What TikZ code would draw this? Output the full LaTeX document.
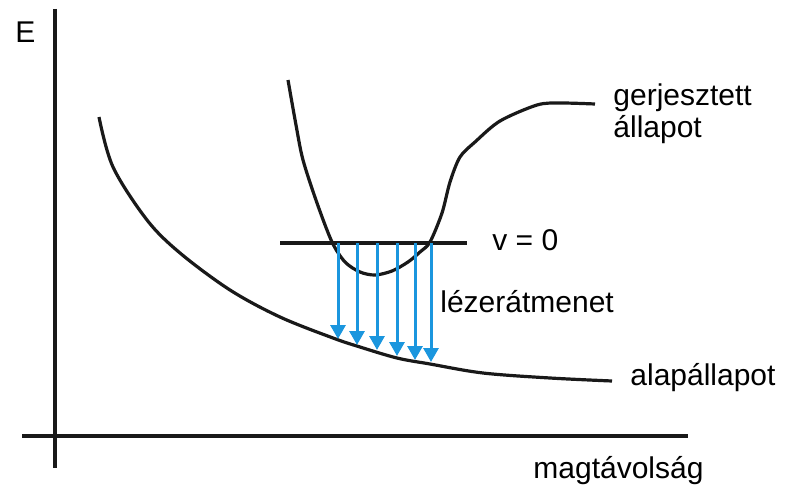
\documentclass[tikz,border=0pt]{standalone}
\usepackage{fontspec}
\setmainfont{Liberation Sans}
\usetikzlibrary{arrows.meta, positioning}

\begin{document}
\begin{tikzpicture}[x=0.5pt, y=-0.5pt, l/.style={line width=1.6pt,black!90}, lz/.style={-{Triangle[length=7pt,width=7.5pt]},line width=1.5pt,color={rgb,255:red,27;green,150;blue,222}}, t/.style={font=\fontsize{15}{18}\selectfont,inner sep=0pt}]
  \useasboundingbox (0,0) rectangle (786,492);
  % axes
  \coordinate (ytop) at (55,9);
  \coordinate (ybot) at (55,468);
  \coordinate (xl) at (22,436);
  \coordinate (xr) at (688,436);
  \draw[l] (ytop)--(ybot);
  \draw[l] (xl)--(xr);
  \node[t,anchor=base west](E) at (15,43){E};
  \node[t,anchor=base west](r) at (533,478){magtávolság};
  % potential curves
  \draw[l] plot[smooth,tension=0.55] coordinates {(99,117) (113,167) (147,220) (180,253) (230,290) (280,317) (333,338) (360,347) (397,358) (430,364) (483,373) (550,378) (612,381)};
  \draw[l] plot[smooth,tension=0.5] coordinates {(288,80) (296,125) (303,160) (317,203) (332,242) (345,262) (360,272) (375,275) (392,271) (408,262) (420,252) (430,242) (442,213) (450,182) (460,157) (475,142) (500,121) (537,105) (560,103) (595,104)};
  \node[t,anchor=base west](gs) at (630,385){alapállapot};
  \node[t,anchor=base west](ex) at (613,105){gerjesztett};
  \node[t,anchor=base west](ex2) at (613,137){állapot};
  % v=0 level
  \coordinate (v0a) at (280,243);
  \coordinate (v0b) at (467,243);
  \draw[l] (v0a)--(v0b);
  \node[t,anchor=base west](v) at (492,250){v = 0};
  % laser transitions
  \foreach \i/\x/\y in {1/338/339,2/357/345,3/377/350,4/397/356,5/415/360,6/431/362}{
    \coordinate (a\i) at (\x,243);
    \coordinate (b\i) at (\x,\y);
    \draw[lz] (a\i)--(b\i);}
  \node[t,anchor=base west](lz) at (440,312){lézerátmenet};
\end{tikzpicture}
\end{document}
